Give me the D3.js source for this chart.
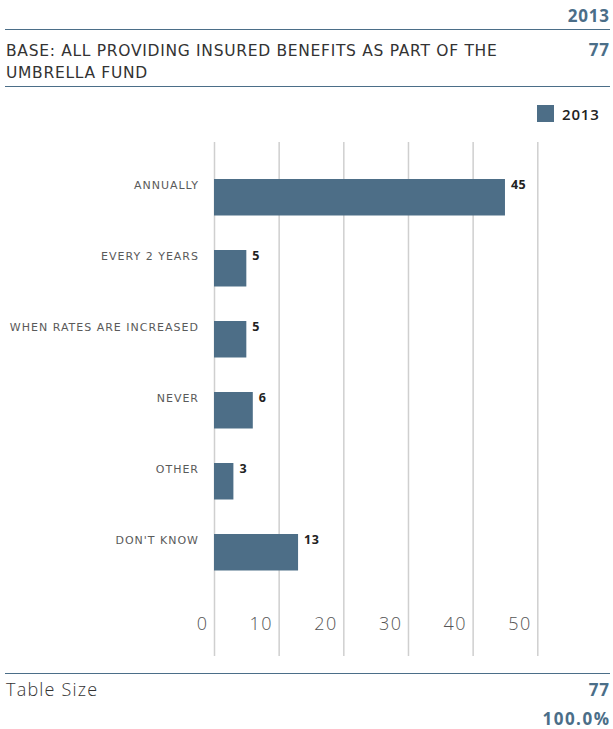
<!DOCTYPE html>
<html>
<head>
<meta charset="utf-8">
<script src="https://cdn.jsdelivr.net/npm/d3@7"></script>
<style>
  html, body { margin: 0; padding: 0; background: #fff; }
  svg { display: block; font-family: "Open Sans", sans-serif; }
</style>
</head>
<body>
<svg id="chart" width="613" height="729"></svg>
<script>
// Survey responses (percent), 2013
const categories = ["ANNUALLY", "EVERY 2 YEARS", "WHEN RATES ARE INCREASED", "NEVER", "OTHER", "DON'T KNOW"];
const values2013 = [45, 5, 5, 6, 3, 13];
const xTicks = [0, 10, 20, 30, 40, 50];
const seriesName = "2013";
const baseLabel = ["BASE: ALL PROVIDING INSURED BENEFITS AS PART OF THE", "UMBRELLA FUND"];
const baseCount = 77;
const tableSize = 77;
const tableTotal = "100.0%";

const accent = "#4b6e88";
const barColor = "#4d6e87";
const textDark = "#333";
const textGrey = "#555";
const wideFont = "'DejaVu Sans', sans-serif";

const svg = d3.select("#chart");

// Right-aligned figure in the header/footer columns
function figure(txt, yPos, ls) {
  svg.append("text").attr("x", 609 + ls).attr("y", yPos).attr("text-anchor", "end")
    .attr("font-size", 17).attr("font-weight", 700).attr("letter-spacing", ls)
    .attr("fill", accent).text(txt);
}

// Header block
figure(seriesName, 22, 0.8);
svg.append("line").attr("x1", 5).attr("x2", 610).attr("y1", 29.5).attr("y2", 29.5)
  .attr("stroke", accent).attr("stroke-width", 1);
svg.selectAll("text.base").data(baseLabel).join("text").attr("class", "base")
  .attr("x", 6).attr("y", (d, i) => 55.7 + i * 22)
  .attr("font-family", wideFont).attr("font-size", 15.5).attr("letter-spacing", 0.7)
  .attr("fill", textDark).text(d => d);
figure(baseCount, 55.7, 0.8);
svg.append("line").attr("x1", 5).attr("x2", 610).attr("y1", 86.5).attr("y2", 86.5)
  .attr("stroke", accent).attr("stroke-width", 1);

// Legend
svg.append("rect").attr("x", 537).attr("y", 105).attr("width", 17).attr("height", 17).attr("fill", barColor);
svg.append("text").attr("x", 562).attr("y", 120).attr("font-size", 15).attr("font-weight", 600)
  .attr("letter-spacing", 0.8).attr("fill", "#222").text(seriesName);

// Scales
const x = d3.scaleLinear().domain([0, 50]).range([214, 537.3]);
const y = d3.scaleBand().domain(categories).range([161.75, 587.75])
  .paddingInner(0.486).paddingOuter(0.243);

// Vertical gridlines with tick labels
const axis = d3.axisBottom(x).tickValues(xTicks).tickSize(0).tickFormat(d3.format("d"));
const gAxis = svg.append("g").call(axis);
gAxis.select(".domain").remove();
gAxis.selectAll(".tick line").attr("y1", 142).attr("y2", 656)
  .attr("stroke", "#cfcfcf").attr("stroke-width", 1.5);
gAxis.selectAll(".tick text").attr("x", -6).attr("y", 624).attr("dy", "0.35em")
  .attr("text-anchor", "end").attr("font-family", "'Open Sans', sans-serif")
  .attr("font-size", 18).attr("font-weight", 300).attr("letter-spacing", 1.5)
  .attr("fill", textGrey);

// Bars
const data = categories.map((c, i) => ({ c, v: values2013[i] }));
svg.selectAll("rect.bar").data(data).join("rect").attr("class", "bar")
  .attr("x", x(0)).attr("y", d => y(d.c))
  .attr("width", d => x(d.v) - x(0)).attr("height", y.bandwidth())
  .attr("fill", barColor);

// Category labels
svg.selectAll("text.cat").data(data).join("text").attr("class", "cat")
  .attr("x", 199).attr("y", d => y(d.c) + 9.8)
  .attr("text-anchor", "end").attr("font-family", wideFont).attr("font-size", 11)
  .attr("letter-spacing", 1.0).attr("fill", "#5a5a5a").text(d => d.c);

// Value labels
svg.selectAll("text.val").data(data).join("text").attr("class", "val")
  .attr("x", d => x(d.v) + 6).attr("y", d => y(d.c) + 6).attr("dy", "0.35em")
  .attr("font-size", 12.5).attr("font-weight", 700).attr("letter-spacing", 0.5)
  .attr("fill", "#222").text(d => d.v);

// Footer
svg.append("line").attr("x1", 5).attr("x2", 610).attr("y1", 673.5).attr("y2", 673.5)
  .attr("stroke", accent).attr("stroke-width", 1);
svg.append("text").attr("x", 6).attr("y", 695.7).attr("font-size", 18).attr("font-weight", 300)
  .attr("letter-spacing", 1.2).attr("fill", textDark).text("Table Size");
figure(tableSize, 695.7, 0.8);
figure(tableTotal, 725, 1.5);
</script>
</body>
</html>
